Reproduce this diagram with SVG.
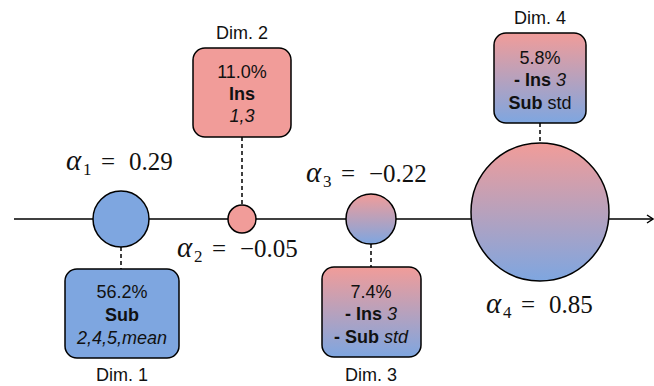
<svg xmlns="http://www.w3.org/2000/svg" width="654" height="386" viewBox="0 0 654 386">
<defs>
<linearGradient id="rb" x1="0" y1="0" x2="0" y2="1">
<stop offset="0" stop-color="#F19C99"/>
<stop offset="1" stop-color="#7EA6E0"/>
</linearGradient>
<marker id="arr" markerWidth="10" markerHeight="10" refX="8" refY="5" orient="auto" markerUnits="userSpaceOnUse">
<path d="M2,1 L8,5 L2,9" fill="none" stroke="#000" stroke-width="1.5"/>
</marker>
</defs>
<style>
.n{stroke:#000;stroke-width:1.5}
.t{font-family:"Liberation Sans",Arial,sans-serif;font-size:18px;text-anchor:middle;fill:#111}
.a{font-family:"Liberation Serif","Times New Roman",serif;font-size:25px;fill:#111}
.s{font-size:17px}
.i{font-style:italic;font-size:29px}
.d{stroke:#000;stroke-width:1.5;stroke-dasharray:4 3;fill:none}
</style>
<g id="connectors">
<line x1="14" y1="219" x2="653" y2="219" stroke="#000" stroke-width="1.5" marker-end="url(#arr)"/>
<line class="d" x1="121" y1="247" x2="121" y2="269"/>
<line class="d" x1="242" y1="137" x2="242" y2="205"/>
<line class="d" x1="371" y1="244" x2="371" y2="267"/>
<line class="d" x1="540" y1="123" x2="540" y2="143"/>
</g>
<g id="c1">
<circle class="n" cx="121" cy="219" r="28" fill="#7EA6E0"/>
<text class="a" y="170"><tspan class="i" x="66">α</tspan><tspan class="s" x="83" y="175">1</tspan><tspan x="101" y="170">=</tspan><tspan x="129">0.29</tspan></text>
</g>
<g id="c2">
<circle class="n" cx="242" cy="219" r="14" fill="#F19C99"/>
<text class="a" y="257"><tspan class="i" x="177">α</tspan><tspan class="s" x="194" y="262">2</tspan><tspan x="212" y="257">=</tspan><tspan x="240">−0.05</tspan></text>
</g>
<g id="c3">
<circle class="n" cx="371" cy="219" r="25" fill="url(#rb)"/>
<text class="a" y="182"><tspan class="i" x="306">α</tspan><tspan class="s" x="323" y="187">3</tspan><tspan x="341" y="182">=</tspan><tspan x="369">−0.22</tspan></text>
</g>
<g id="c4">
<circle class="n" cx="540" cy="212" r="69" fill="url(#rb)"/>
<text class="a" y="313"><tspan class="i" x="486">α</tspan><tspan class="s" x="503" y="318">4</tspan><tspan x="521" y="313">=</tspan><tspan x="549">0.85</tspan></text>
</g>
<g id="dim1">
<rect class="n" x="65" y="269" width="114" height="89" rx="12" fill="#7EA6E0"/>
<text class="t" x="122" y="298">56.2%</text>
<text class="t" x="122" y="321" font-weight="bold">Sub</text>
<text class="t" x="122" y="344" font-style="italic">2,4,5,mean</text>
<text class="t" x="122" y="381">Dim. 1</text>
</g>
<g id="dim2">
<rect class="n" x="193" y="48" width="98" height="89" rx="12" fill="#F19C99"/>
<text class="t" x="242" y="78">11.0%</text>
<text class="t" x="242" y="100" font-weight="bold">Ins</text>
<text class="t" x="242" y="122" font-style="italic">1,3</text>
<text class="t" x="242" y="39">Dim. 2</text>
</g>
<g id="dim3">
<rect class="n" x="322" y="267" width="99" height="90" rx="12" fill="url(#rb)"/>
<text class="t" x="371" y="298">7.4%</text>
<text class="t" x="371" y="320"><tspan font-weight="bold">- Ins</tspan> <tspan font-style="italic">3</tspan></text>
<text class="t" x="371" y="343"><tspan font-weight="bold">- Sub</tspan> <tspan font-style="italic">std</tspan></text>
<text class="t" x="371" y="381">Dim. 3</text>
</g>
<g id="dim4">
<rect class="n" x="494" y="33" width="92" height="90" rx="12" fill="url(#rb)"/>
<text class="t" x="540" y="64">5.8%</text>
<text class="t" x="540" y="86"><tspan font-weight="bold">- Ins</tspan> <tspan font-style="italic">3</tspan></text>
<text class="t" x="540" y="109"><tspan font-weight="bold">Sub</tspan> std</text>
<text class="t" x="540" y="24">Dim. 4</text>
</g>
</svg>
